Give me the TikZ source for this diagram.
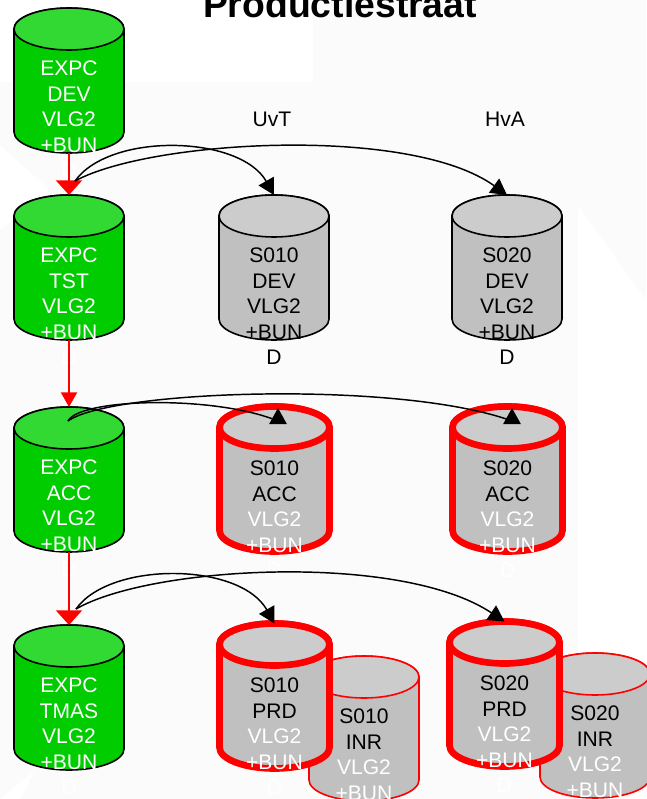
\documentclass[tikz,border=0pt]{standalone}
\usepackage{fontspec}
\setmainfont{Liberation Sans}
\usetikzlibrary{positioning,arrows.meta}
\definecolor{dbgreen}{RGB}{0,204,0}
\definecolor{dbgreentop}{RGB}{51,217,51}
\definecolor{dbgray}{RGB}{192,192,192}
\definecolor{dbgraytop}{RGB}{204,204,204}
\definecolor{backdrop}{RGB}{251,251,251}
\tikzset{
  dbbox/.style={inner sep=0pt, outer sep=0pt, minimum width=82.5pt, minimum height=108.75pt},
  dbblack/.style={draw=black, line width=1.2pt},
  dbred/.style={draw=red, line width=5pt},
  dbthin/.style={draw=red, line width=1.2pt},
  dbtext/.style={font=\fontsize{15.8}{19.2}\selectfont, align=center, anchor=north, inner sep=0pt},
  redflow/.style={draw=red, line width=1.5pt, -{Triangle[length=11pt,width=19.5pt]}},
  redthin/.style={draw=red, line width=1.5pt, -{Triangle[length=11pt,width=12pt]}},
  copyline/.style={line width=1.1pt},
  copyflow/.style={copyline, -{Triangle[length=12pt,width=13pt]}}
}
% name, position, outline style, body colour, top colour
\newcommand{\dbcyl}[5]{
  \node[dbbox] (#1) at (#2) {};
  \filldraw[#3, fill=#4] ([yshift=-15.75pt]#1.north west) -- ([yshift=15.75pt]#1.south west)
    arc[start angle=180, end angle=360, x radius=41.25pt, y radius=15.75pt]
    -- ([yshift=-15.75pt]#1.north east)
    arc[start angle=0, end angle=180, x radius=41.25pt, y radius=15.75pt] -- cycle;
  \filldraw[#3, fill=#5] ([yshift=-15.75pt]#1.north) ellipse [x radius=41.25pt, y radius=15.75pt];
}
\begin{document}
\begin{tikzpicture}[x=0.75pt,y=-0.75pt]
  \useasboundingbox (0,0) rectangle (646,799);
  % faint backdrop
  \fill[backdrop] (0,0) rectangle (646,799);
  \fill[white] (0,0) rectangle (313,82);
  \fill[white] (0,145) -- (50,190) -- (0,230) -- cycle;
  \fill[white] (578,205) -- (646,300) -- (646,799) -- (578,799) -- cycle;
  \fill[white] (0,799) -- (35,770) -- (20,799) -- cycle;

  \node[font=\fontsize{28}{28}\selectfont\bfseries, anchor=base] (title) at (340,18) {Productiestraat};
  \node[dbtext] (uvt) at (272,111.5) {UvT};
  \node[dbtext] (hva) at (505,111.5) {HvA};

  \foreach \name/\pos in {dev/{69,80.5}, tst/{69,267.5}, acc/{69,479.5}, tmas/{69,697.5}}
    \dbcyl{\name}{\pos}{dbblack}{dbgreen}{dbgreentop};
  \foreach \name/\pos in {sdevone/{274,267.5}, sdevtwo/{507,267.5}}
    \dbcyl{\name}{\pos}{dbblack}{dbgray}{dbgraytop};
  \foreach \name/\pos in {saccone/{274.5,479}, sacctwo/{507.5,479}}
    \dbcyl{\name}{\pos}{dbred}{dbgray}{dbgraytop};
  \foreach \name/\pos in {sinrone/{364,728.5}, sinrtwo/{595,725.5}}
    \dbcyl{\name}{\pos}{dbthin}{dbgray}{dbgraytop};
  \foreach \name/\pos in {sprdone/{274.5,696}, sprdtwo/{504.5,694}}
    \dbcyl{\name}{\pos}{dbred}{dbgray}{dbgraytop};

  % teksten in de vaten
  \node[dbtext,text=white] (tdev) at (69,60.5) {EXPC\\DEV\\VLG2\\+BUN\\D};
  \node[dbtext,text=white] (ttst) at (69,247.5) {EXPC\\TST\\VLG2\\+BUN\\D};
  \node[dbtext,text=white] (tacc) at (69,459.5) {EXPC\\ACC\\VLG2\\+BUN\\D};
  \node[dbtext,text=white] (ttmas) at (69,677.5) {EXPC\\TMAS\\VLG2\\+BUN\\D};
  \node[dbtext] (tsdevone) at (274,247.5) {S010\\DEV\\VLG2\\+BUN\\D};
  \node[dbtext] (tsdevtwo) at (507,247.5) {S020\\DEV\\VLG2\\+BUN\\D};
  \node[dbtext] (tsaccone) at (274.5,460.5) {S010\\ACC\\\textcolor{white}{VLG2}\\\textcolor{white}{+BUN}\\\textcolor{white}{D}};
  \node[dbtext] (tsacctwo) at (507.5,460.5) {S020\\ACC\\\textcolor{white}{VLG2}\\\textcolor{white}{+BUN}\\\textcolor{white}{D}};
  \node[dbtext] (tsprdone) at (274.5,677.5) {S010\\PRD\\\textcolor{white}{VLG2}\\\textcolor{white}{+BUN}\\\textcolor{white}{D}};
  \node[dbtext] (tsprdtwo) at (504.5,675.5) {S020\\PRD\\\textcolor{white}{VLG2}\\\textcolor{white}{+BUN}\\\textcolor{white}{D}};
  \node[dbtext] (tsinrone) at (364,708.5) {S010\\INR\\\textcolor{white}{VLG2}\\\textcolor{white}{+BUN}};
  \node[dbtext] (tsinrtwo) at (595,705.5) {S020\\INR\\\textcolor{white}{VLG2}\\\textcolor{white}{+BUN}};

  \draw[redflow] (dev.south) -- (tst.north);
  \draw[redthin] (tst.south) -- (acc.north);
  \draw[redflow] (acc.south) -- (tmas.north);

  \coordinate (fromtop) at (75,181);
  \coordinate (frommid) at (68,421);
  \coordinate (frombot) at (76,609);
  \coordinate (tipone) at (278,421);
  \coordinate (tiptwo) at (512,421);
  \draw[copyflow] (fromtop) .. controls (110,132) and (240,135) .. (sdevone.north);
  \draw[copyflow] (fromtop) .. controls (150,140) and (410,125) .. (sdevtwo.north);
  \draw[copyflow] (frombot) .. controls (110,561) and (240,562) .. (sprdone.north);
  \draw[copyflow] (frombot) .. controls (150,566) and (400,552) .. (sprdtwo.north);
  \draw[copyline] (frommid) .. controls (80,398) and (215,395) .. (tipone);
  \draw[copyline] (frommid) .. controls (110,390) and (400,380) .. (tiptwo);
  \draw[copyflow] (tipone) -- ++(0,-13);
  \draw[copyflow] (tiptwo) -- ++(0,-13);
\end{tikzpicture}
\end{document}
